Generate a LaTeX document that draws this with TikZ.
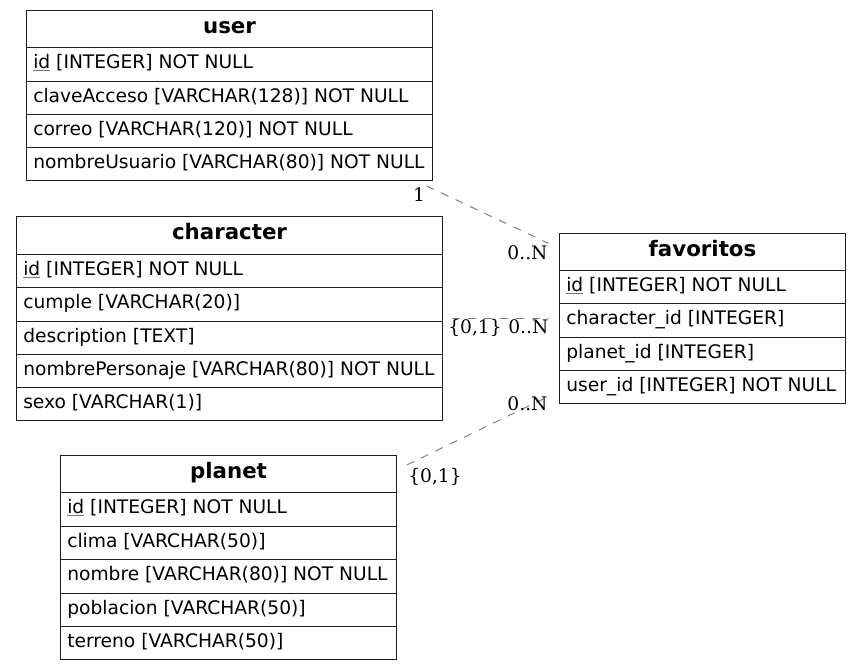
\documentclass[tikz,border=0pt]{standalone}
\usepackage{fontspec}
\setmainfont{DejaVu Sans}
\newfontfamily\cardfont{DejaVu Serif}
\usetikzlibrary{fit,calc}

% primary key: name underlined with a thin grey rule
\newcommand\pkey[1]{\textcolor{keyline}{\underline{\textcolor{black}{#1}}}}

% one table cell (its area only), given its corners in px
\newcommand\cell[5]{%
  \node[cellbox, fit={(#2,#3) (#4,#5)}] (#1) {};}
% a column row: cell, separator line on top, left-aligned text
\newcommand\colrow[6]{%
  \cell{#1}{#2}{#3}{#4}{#5}
  \draw[tableline] (#1.north west) -- (#1.north east);
  \node[rowtext] (#1-t) at ($(#1.north west)+(6.5,20.6)$) {#6};}
% the table title row
\newcommand\titlerow[6]{%
  \cell{#1}{#2}{#3}{#4}{#5}
  \node[titletext] (#1-t) at ($(#1.north)+(0,23.2)$) {#6};}
% outer frame of a table, from its title cell to its last row
\newcommand\frametable[2]{%
  \draw[tableline] (#1.north west) rectangle (#2.south east);}

\definecolor{keyline}{RGB}{120,120,120}
\definecolor{relgray}{RGB}{128,128,128}
\definecolor{framecol}{RGB}{30,30,30}

\begin{document}
\begin{tikzpicture}[x=0.75pt, y=-0.75pt,
  cellbox/.style={inner sep=0pt, outer sep=0pt},
  tableline/.style={draw=framecol, line width=0.9pt},
  rowtext/.style={anchor=base west, inner sep=0pt, font=\fontsize{14}{16}\selectfont},
  titletext/.style={anchor=base, inner sep=0pt, font=\fontsize{16}{18}\selectfont\bfseries},
  rel/.style={draw=relgray, line width=0.75pt, dash pattern=on 6pt off 6pt},
  card/.style={anchor=base, inner sep=0pt, font=\cardfont\fontsize{14}{16}\selectfont}]

\useasboundingbox (0,0) rectangle (861,670);

% user
\titlerow{user}{26.5}{10.5}{432.5}{47.5}{user}
\colrow{user-1}{26.5}{47.5}{432.5}{81.5}{\pkey{id} [INTEGER] NOT NULL}
\colrow{user-2}{26.5}{81.5}{432.5}{114.5}{claveAcceso [VARCHAR(128)] NOT NULL}
\colrow{user-3}{26.5}{114.5}{432.5}{147.5}{correo [VARCHAR(120)] NOT NULL}
\colrow{user-4}{26.5}{147.5}{432.5}{180.5}{nombreUsuario [VARCHAR(80)] NOT NULL}
\frametable{user}{user-4}

% character
\titlerow{char}{16.5}{216.5}{442.5}{254.5}{character}
\colrow{char-1}{16.5}{254.5}{442.5}{287.5}{\pkey{id} [INTEGER] NOT NULL}
\colrow{char-2}{16.5}{287.5}{442.5}{321.5}{cumple [VARCHAR(20)]}
\colrow{char-3}{16.5}{321.5}{442.5}{354.5}{description [TEXT]}
\colrow{char-4}{16.5}{354.5}{442.5}{387.5}{nombrePersonaje [VARCHAR(80)] NOT NULL}
\colrow{char-5}{16.5}{387.5}{442.5}{420.5}{sexo [VARCHAR(1)]}
\frametable{char}{char-5}

% favoritos
\titlerow{fav}{559.5}{233.5}{845.5}{270.5}{favoritos}
\colrow{fav-1}{559.5}{270.5}{845.5}{303.5}{\pkey{id} [INTEGER] NOT NULL}
\colrow{fav-2}{559.5}{303.5}{845.5}{337.5}{character\_id [INTEGER]}
\colrow{fav-3}{559.5}{337.5}{845.5}{370.5}{planet\_id [INTEGER]}
\colrow{fav-4}{559.5}{370.5}{845.5}{403.5}{user\_id [INTEGER] NOT NULL}
\frametable{fav}{fav-4}

% planet
\titlerow{planet}{60.5}{455.5}{396.5}{492.5}{planet}
\colrow{planet-1}{60.5}{492.5}{396.5}{526.5}{\pkey{id} [INTEGER] NOT NULL}
\colrow{planet-2}{60.5}{526.5}{396.5}{559.5}{clima [VARCHAR(50)]}
\colrow{planet-3}{60.5}{559.5}{396.5}{593.5}{nombre [VARCHAR(80)] NOT NULL}
\colrow{planet-4}{60.5}{593.5}{396.5}{626.5}{poblacion [VARCHAR(50)]}
\colrow{planet-5}{60.5}{626.5}{396.5}{659.5}{terreno [VARCHAR(50)]}
\frametable{planet}{planet-5}

% relationship end points
\coordinate (u-end) at ($(user-4.south east)+(-5.8,5.5)$);
\coordinate (fu-end) at ($(fav.north west)+(-11.2,9.8)$);
\coordinate (c-end) at ($(char-3.north east)+(9.2,-3.2)$);
\coordinate (fc-end) at ($(fav-2.west)+(-11.5,-2.2)$);
\coordinate (p-end) at ($(planet.north east)+(10.2,9.5)$);
\coordinate (fp-end) at ($(fav-4.south west)+(-12.8,-6.2)$);

% relationships
\draw[rel] (u-end) -- (fu-end);
\draw[rel] (c-end) -- (fc-end);
\draw[rel] (p-end) -- (fp-end);

% cardinalities
\node[card] (k-u1) at (419,201.7) {1};
\node[card] (k-u2) at (527.5,259.3) {0..N};
\node[card] (k-c1) at (475,334) {\{0,1\}};
\node[card] (k-c2) at (528.3,334) {0..N};
\node[card] (k-p2) at (527.5,410.7) {0..N};
\node[card] (k-p1) at (435,482.7) {\{0,1\}};
\end{tikzpicture}
\end{document}
